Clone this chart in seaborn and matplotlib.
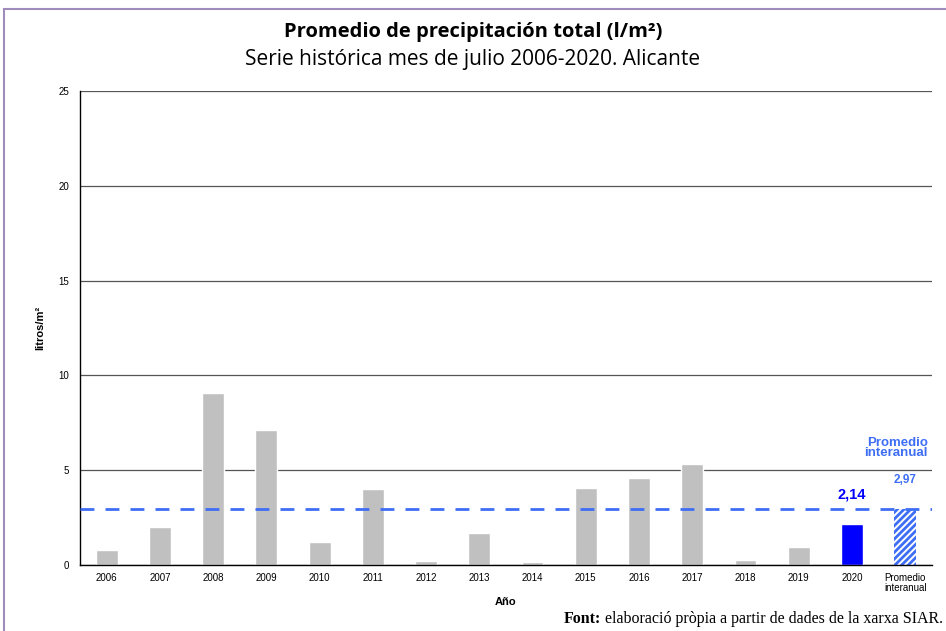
import matplotlib
matplotlib.use('Agg')
import matplotlib.pyplot as plt
import seaborn as sns
import pandas as pd
from matplotlib.patches import Rectangle

sns.set_style('white')
plt.rcParams['hatch.linewidth'] = 2.0
plt.rcParams['text.color'] = 'black'
plt.rcParams['xtick.color'] = 'black'
plt.rcParams['ytick.color'] = 'black'
plt.rcParams['axes.labelcolor'] = 'black'

# data
categorias = ['2006', '2007', '2008', '2009', '2010', '2011', '2012', '2013',
              '2014', '2015', '2016', '2017', '2018', '2019', '2020',
              'Promedio\ninteranual']
precipitacion = [0.8, 2.0, 9.05, 7.1, 1.2, 4.0, 0.2, 1.7,
                 0.15, 4.05, 4.6, 5.35, 0.25, 0.95, 2.14, 2.97]
promedio = 2.97

gris = '#c0c0c0'
azul = '#0000ff'
azul_claro = '#3d6ef5'
colores = [gris] * 14 + [azul, 'white']

df = pd.DataFrame({'Año': categorias, 'valor': precipitacion})

fig = plt.figure(figsize=(9.46, 6.31), dpi=100)
ax = fig.add_axes([0.0846, 0.1046, 0.9004, 0.7512])

sns.barplot(data=df, x='Año', y='valor', hue='Año', palette=colores,
            legend=False, width=0.41, ax=ax, saturation=1)

# hatched bar for the interannual mean
last = ax.patches[-1]
last.set_hatch('/////')
last.set_edgecolor(azul_claro)
last.set_linewidth(0)

ax.axhline(promedio, color=azul_claro, ls=(0, (5, 4)), lw=2, zorder=3)

ax.set_ylim(0, 25)
ax.set_xlim(-0.5, len(categorias) - 0.5)
ax.set_yticks([0, 5, 10, 15, 20, 25])
ax.yaxis.grid(True, color='#555555', lw=0.9)
ax.set_axisbelow(True)
for s in ['top', 'right']:
    ax.spines[s].set_visible(False)
for s in ['left', 'bottom']:
    ax.spines[s].set_color('black')
    ax.spines[s].set_linewidth(1)

ax.set_xticks(range(len(categorias)))
ax.set_xticklabels(categorias, fontsize=7, family='Liberation Sans', linespacing=1.0)
ax.set_xticks([i - 0.5 for i in range(len(categorias) + 1)], minor=True)
ax.tick_params(axis='x', which='major', length=0, pad=6)
ax.tick_params(axis='x', which='minor', length=4, direction='out', color='black')
ax.tick_params(axis='y', length=4, direction='out', color='black', labelsize=7, pad=4)
for t in ax.get_yticklabels():
    t.set_family('Liberation Sans')

ax.set_xlabel('Año', fontsize=8, fontweight='bold', family='Liberation Sans', labelpad=3)
ax.set_ylabel('litros/m²', fontsize=8, fontweight='bold', family='Liberation Sans', labelpad=9)

ax.text(14, 3.74, '2,14', color=azul, fontsize=10.5, fontweight='bold',
        ha='center', va='center', family='Liberation Sans')
ax.text(15, 4.48, '2,97', color=azul_claro, fontsize=8.5, fontweight='bold',
        ha='center', va='center', family='Liberation Sans')
ax.text(15.42, 6.17, 'Promedio\ninteranual', color=azul_claro, fontsize=9.5, fontweight='bold',
        ha='right', va='center', family='Liberation Sans', linespacing=0.85)

fig.text(0.5, 0.949, 'Promedio de precipitación total (l/m²)', ha='center', va='center',
         fontsize=14.5, fontweight='bold', family='Open Sans')
fig.text(0.5, 0.906, 'Serie histórica mes de julio 2006-2020. Alicante', ha='center', va='center',
         fontsize=15, family='Open Sans')

foot = fig.text(0.997, 0.006, ' elaboració pròpia a partir de dades de la xarxa SIAR.',
                ha='right', va='bottom', fontsize=11.5, family='Liberation Serif')
fig.canvas.draw()
bb = foot.get_window_extent().transformed(fig.transFigure.inverted())
fig.text(bb.x0, 0.006, 'Font:', ha='right', va='bottom', fontsize=11.5,
         fontweight='bold', family='Liberation Serif')

fig.patches.append(Rectangle((0.0045, -0.05), 1.05, 1.036, transform=fig.transFigure,
                             fill=False, edgecolor='#a08cbc', lw=1.5))

fig.savefig('out.png', dpi=100)
